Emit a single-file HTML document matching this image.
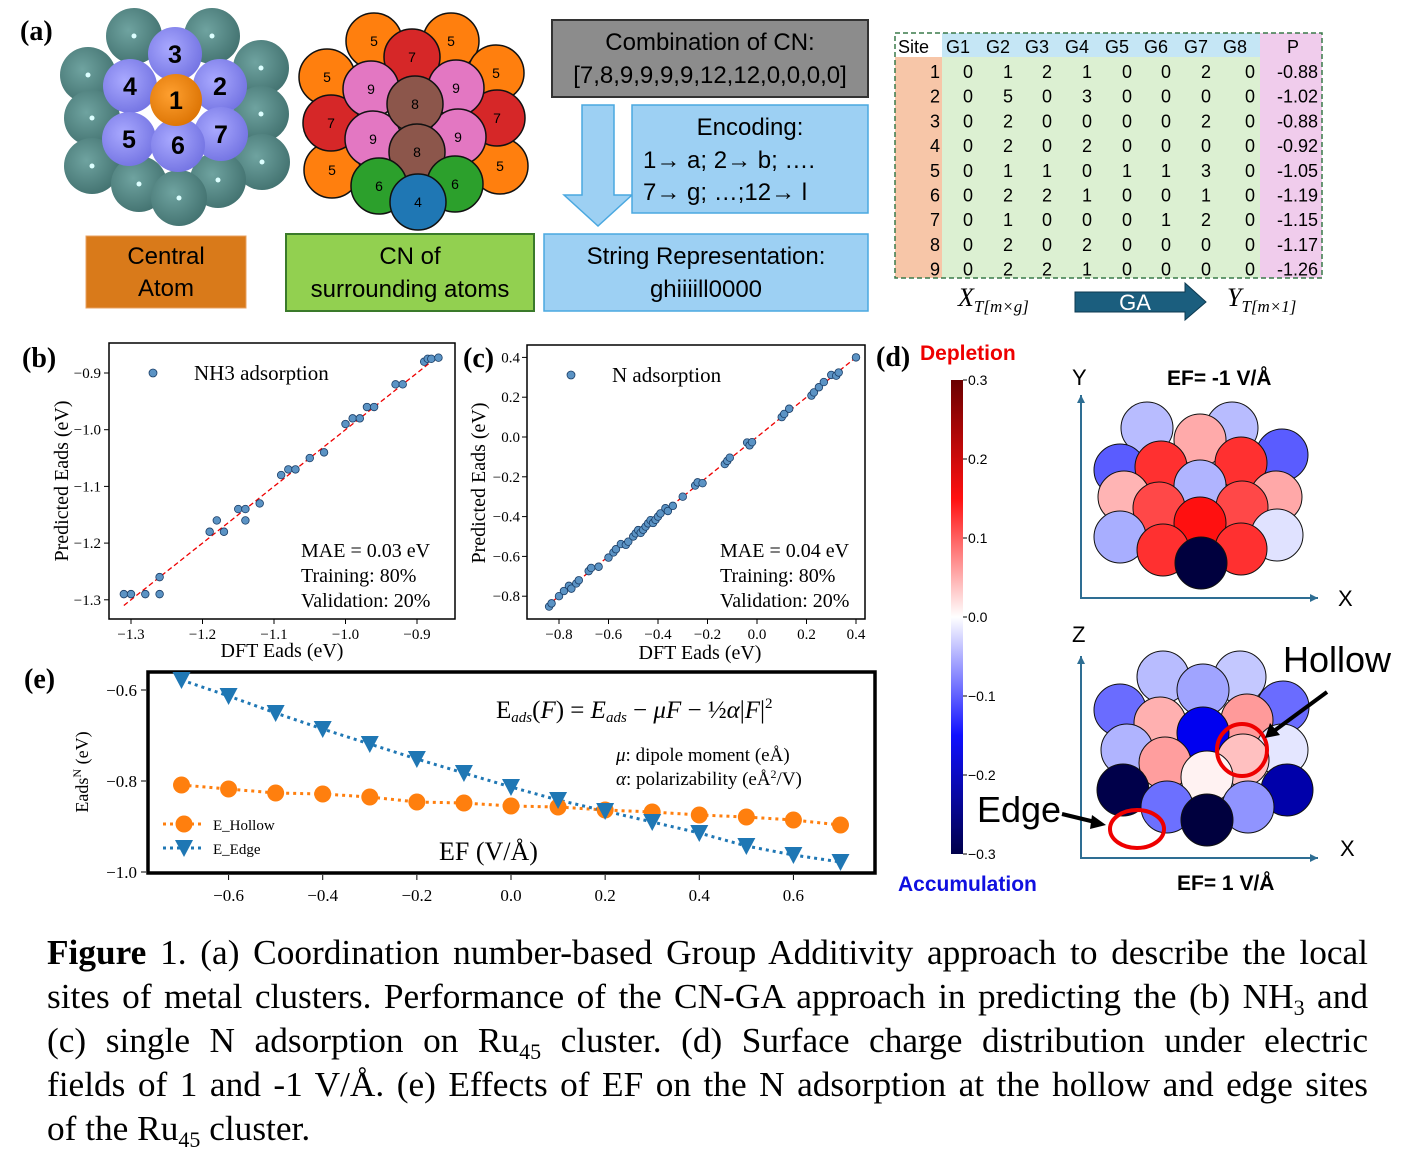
<!DOCTYPE html>
<html><head><meta charset="utf-8"><style>
body{margin:0;background:#fff;width:1402px;height:1171px;overflow:hidden;position:relative}
svg{display:block}
.s{font-family:"Liberation Sans",sans-serif}
.r{font-family:"Liberation Serif",serif}
.ln{position:absolute;left:47px;width:1321px;font-family:"Liberation Serif",serif;font-size:35.3px;line-height:40px;height:40px;white-space:nowrap;text-align:justify;text-align-last:justify;color:#000}
.ln sub{font-size:22px;line-height:0;vertical-align:-7px}
</style></head><body>
<svg id="sv" width="1402" height="1171" viewBox="0 0 1402 1171" xmlns="http://www.w3.org/2000/svg">
<defs>
<radialGradient id="tg" cx="0.4" cy="0.4" r="0.7"><stop offset="0" stop-color="#6fa3a0"/><stop offset="1" stop-color="#3f6e6c"/></radialGradient>
<radialGradient id="pg" cx="0.4" cy="0.4" r="0.7"><stop offset="0" stop-color="#a9a9ff"/><stop offset="1" stop-color="#6f6fe0"/></radialGradient>
<radialGradient id="og" cx="0.4" cy="0.4" r="0.7"><stop offset="0" stop-color="#ffa030"/><stop offset="1" stop-color="#d97000"/></radialGradient>
<linearGradient id="cb" x1="0" y1="0" x2="0" y2="1"><stop offset="0" stop-color="#6a0000"/><stop offset="0.25" stop-color="#ff1010"/><stop offset="0.5" stop-color="#ffffff"/><stop offset="0.75" stop-color="#1010ff"/><stop offset="1" stop-color="#00004a"/></linearGradient>
</defs>
<g id="g"></g>
</svg>
<div class="ln" style="top:933px"><b>Figure</b> 1. (a) Coordination number-based Group Additivity approach to describe the local</div>
<div class="ln" style="top:977px">sites of metal clusters. Performance of the CN-GA approach in predicting the (b) NH<sub>3</sub> and</div>
<div class="ln" style="top:1021px">(c) single N adsorption on Ru<sub>45</sub> cluster. (d) Surface charge distribution under electric</div>
<div class="ln" style="top:1065px">fields of 1 and -1 V/Å. (e) Effects of EF on the N adsorption at the hollow and edge sites</div>
<div class="ln" style="top:1109px;text-align-last:left">of the Ru<sub>45</sub> cluster.</div>
<script>
var h='';
function c(x,y,r,f,st,sw){h+='<circle cx="'+x+'" cy="'+y+'" r="'+r+'" fill="'+f+'" stroke="'+(st||'none')+'" stroke-width="'+(sw||1)+'"/>';}
function t(x,y,s,cls,sz,extra){h+='<text x="'+x+'" y="'+y+'" class="'+cls+'" font-size="'+sz+'" '+(extra||'')+'>'+s+'</text>';}
t(20,40,'(a)','r',28,'font-weight="bold"');
[[134,36],[212,36],[88,75],[261,68],[92,118],[261,114],[92,166],[262,162],[139,184],[218,180],[179,198]].forEach(p=>{c(p[0],p[1],28,'url(#tg)');c(p[0],p[1],2.5,'#dff');});
[[175,54,'3'],[130,86,'4'],[220,86,'2'],[129,139,'5'],[221,134,'7'],[178,145,'6']].forEach(p=>{c(p[0],p[1],27,'url(#pg)');t(p[0],p[1]+9,p[2],'s',25,'text-anchor="middle" font-weight="bold"');});
c(176,100,26,'url(#og)');t(176,109,'1','s',25,'text-anchor="middle" font-weight="bold"');
var C2=[[374,41,'#ff7f0e','5'],[451,41,'#ff7f0e','5'],[327,77,'#ff7f0e','5'],[496,73,'#ff7f0e','5'],[332,170,'#ff7f0e','5'],[500,166,'#ff7f0e','5'],[412,57,'#d62728','7'],[331,123,'#d62728','7'],[497,118,'#d62728','7'],[371,89,'#e377c2','9'],[456,88,'#e377c2','9'],[373,139,'#e377c2','9'],[458,137,'#e377c2','9'],[415,104,'#8c564b','8'],[417,152,'#8c564b','8'],[379,186,'#2ca02c','6'],[455,184,'#2ca02c','6'],[418,202,'#1f77b4','4']];
C2.forEach(p=>{c(p[0],p[1],28,p[2],'#111',1.5);t(p[0],p[1]+5,p[3],'s',14,'text-anchor="middle"');});
h+='<rect x="86" y="236" width="160" height="72" fill="#d97a1a" stroke="#e8a060"/>';
t(166,264,'Central','s',24,'text-anchor="middle"');t(166,296,'Atom','s',24,'text-anchor="middle"');
h+='<rect x="286" y="234" width="248" height="77" fill="#92d050" stroke="#3a7a2a" stroke-width="2"/>';
t(410,264,'CN of','s',24,'text-anchor="middle"');t(410,297,'surrounding atoms','s',24,'text-anchor="middle"');
h+='<rect x="552" y="20" width="316" height="77" fill="#8c8c8c" stroke="#333" stroke-width="2"/>';
t(710,50,'Combination of CN:','s',24,'text-anchor="middle"');t(710,83,'[7,8,9,9,9,9,12,12,0,0,0,0]','s',24,'text-anchor="middle"');
h+='<path d="M582,105 H614 V195 H632 L598,226 L564,195 H582 Z" fill="#9dd0f3" stroke="#4aa8e0" stroke-width="1.5"/>';
h+='<rect x="632" y="105" width="236" height="108" fill="#9dd0f3" stroke="#4aa8e0" stroke-width="1.5"/>';
t(750,135,'Encoding:','s',24,'text-anchor="middle"');t(643,168,'1<tspan font-weight="bold">→</tspan> a; 2<tspan font-weight="bold">→</tspan> b; ….','s',24);t(643,200,'7<tspan font-weight="bold">→</tspan> g; …;12<tspan font-weight="bold">→</tspan> l','s',24);
h+='<rect x="544" y="234" width="324" height="77" fill="#9dd0f3" stroke="#4aa8e0" stroke-width="1.5"/>';
t(706,264,'String Representation:','s',24,'text-anchor="middle"');t(706,297,'ghiiiill0000','s',24,'text-anchor="middle"');
h+='<rect x="895" y="57" width="47" height="221" fill="#f7c6a8"/><rect x="942" y="33" width="318" height="24" fill="#c5e6f5"/><rect x="942" y="57" width="318" height="221" fill="#dcf0d2"/><rect x="1260" y="33" width="62" height="245" fill="#f0ccec"/>';
h+='<rect x="895" y="33" width="427" height="245" fill="none" stroke="#3a7a4a" stroke-width="1.5" stroke-dasharray="5,3"/>';
t(898,53,'Site','s',18);var gx=[958,998,1037,1077,1117,1156,1196,1235];
gx.forEach((x,i)=>t(x,53,'G'+(i+1),'s',18,'text-anchor="middle"'));t(1293,53,'P','s',18,'text-anchor="middle"');
var T=[[0,1,2,1,0,0,2,0,'-0.88'],[0,5,0,3,0,0,0,0,'-1.02'],[0,2,0,0,0,0,2,0,'-0.88'],[0,2,0,2,0,0,0,0,'-0.92'],[0,1,1,0,1,1,3,0,'-1.05'],[0,2,2,1,0,0,1,0,'-1.19'],[0,1,0,0,0,1,2,0,'-1.15'],[0,2,0,2,0,0,0,0,'-1.17'],[0,2,2,1,0,0,0,0,'-1.26']];
T.forEach((r,i)=>{var y=78+i*24.7;t(940,y,i+1,'s',18,'text-anchor="end"');for(var j=0;j<8;j++)t(j==7?1255:gx[j]+15,y,r[j],'s',18,'text-anchor="end"');t(1318,y,r[8],'s',18,'text-anchor="end"');});
t(958,306,'X<tspan font-size="17" dy="6">T[m×g]</tspan>','r',26,'font-style="italic"');
h+='<path d="M1075,292 H1185 V283 L1206,302 L1185,320 V312 H1075 Z" fill="#1b5e7e" stroke="#0d3a50"/>';t(1135,310,'GA','s',22,'fill="#fff" text-anchor="middle"');
t(1227,306,'Y<tspan font-size="17" dy="6">T[m×1]</tspan>','r',26,'font-style="italic"');
function box(x0,y0,x1,y1,w){h+='<rect x="'+x0+'" y="'+y0+'" width="'+(x1-x0)+'" height="'+(y1-y0)+'" fill="none" stroke="#000" stroke-width="'+(w||1.5)+'"/>';}
t(22,367,'(b)','r',28,'font-weight="bold"');box(109,343,455,619);
var bx=v=>131+(v+1.3)*715, by=v=>373+(-0.9-v)*567;
[[-1.3,'−1.3'],[-1.2,'−1.2'],[-1.1,'−1.1'],[-1.0,'−1.0'],[-0.9,'−0.9']].forEach(a=>{h+='<line x1="'+bx(a[0])+'" y1="619" x2="'+bx(a[0])+'" y2="624" stroke="#000"/>';t(bx(a[0]),639,a[1],'r',15,'text-anchor="middle"');h+='<line x1="104" y1="'+by(a[0])+'" x2="109" y2="'+by(a[0])+'" stroke="#000"/>';t(101,by(a[0])+5,a[1],'r',15,'text-anchor="end"');});
h+='<line x1="'+bx(-1.31)+'" y1="'+by(-1.31)+'" x2="'+bx(-0.87)+'" y2="'+by(-0.87)+'" stroke="#e00" stroke-dasharray="5,3" stroke-width="1.3"/>';
[[-1.31,-1.29],[-1.30,-1.29],[-1.28,-1.29],[-1.26,-1.26],[-1.26,-1.29],[-1.19,-1.18],[-1.18,-1.16],[-1.17,-1.18],[-1.15,-1.14],[-1.14,-1.14],[-1.14,-1.16],[-1.12,-1.13],[-1.09,-1.08],[-1.08,-1.07],[-1.07,-1.07],[-1.05,-1.05],[-1.03,-1.04],[-1.00,-0.99],[-0.99,-0.98],[-0.98,-0.98],[-0.97,-0.96],[-0.96,-0.96],[-0.93,-0.92],[-0.92,-0.92],[-0.89,-0.88],[-0.885,-0.875],[-0.88,-0.875],[-0.87,-0.873]].forEach(p=>c(bx(p[0]),by(p[1]),3.8,'#5b93c4','#1a3d66',0.8));
c(153,373,4,'#5b93c4','#1a3d66',0.8);t(194,380,'NH3 adsorption','r',21);
t(301,557,'MAE = 0.03 eV','r',20);t(301,582,'Training: 80%','r',20);t(301,607,'Validation: 20%','r',20);
t(282,657,'DFT Eads (eV)','r',20,'text-anchor="middle"');
t(68,481,'Predicted Eads (eV)','r',20,'text-anchor="middle" transform="rotate(-90 68 481)"');
t(463,367,'(c)','r',28,'font-weight="bold"');box(527,345,865,619);
var cx=v=>757+v*247.5, cy=v=>437-v*199;
[[-0.8,'−0.8'],[-0.6,'−0.6'],[-0.4,'−0.4'],[-0.2,'−0.2'],[0,'0.0'],[0.2,'0.2'],[0.4,'0.4']].forEach(a=>{h+='<line x1="'+cx(a[0])+'" y1="619" x2="'+cx(a[0])+'" y2="624" stroke="#000"/>';t(cx(a[0]),639,a[1],'r',15,'text-anchor="middle"');h+='<line x1="522" y1="'+cy(a[0])+'" x2="527" y2="'+cy(a[0])+'" stroke="#000"/>';t(520,cy(a[0])+5,a[1],'r',15,'text-anchor="end"');});
h+='<line x1="'+cx(-0.85)+'" y1="'+cy(-0.85)+'" x2="'+cx(0.4)+'" y2="'+cy(0.4)+'" stroke="#e00" stroke-dasharray="5,3" stroke-width="1.3"/>';
var cp=[-0.84,-0.83,-0.8,-0.78,-0.76,-0.75,-0.73,-0.72,-0.68,-0.67,-0.64,-0.6,-0.58,-0.57,-0.55,-0.53,-0.52,-0.5,-0.49,-0.48,-0.47,-0.46,-0.45,-0.44,-0.43,-0.42,-0.41,-0.4,-0.39,-0.37,-0.36,-0.34,-0.3,-0.25,-0.24,-0.22,-0.13,-0.12,-0.11,-0.04,-0.03,-0.02,0.1,0.11,0.13,0.22,0.23,0.25,0.27,0.3,0.32,0.33,0.4];
cp.forEach((v,i)=>c(cx(v),cy(v+((i%5)-2)*0.006),3.8,'#5b93c4','#1a3d66',0.8));
c(571,375,4,'#5b93c4','#1a3d66',0.8);t(612,382,'N adsorption','r',21);
t(720,557,'MAE = 0.04 eV','r',20);t(720,582,'Training: 80%','r',20);t(720,607,'Validation: 20%','r',20);
t(700,659,'DFT Eads (eV)','r',20,'text-anchor="middle"');
t(485,483,'Predicted Eads (eV)','r',20,'text-anchor="middle" transform="rotate(-90 485 483)"');
t(24,688,'(e)','r',28,'font-weight="bold"');box(148,672,875,873,3.5);
var ex=v=>511+v*470.7, ey=v=>690+(-0.6-v)*455;
[[-0.6,'−0.6'],[-0.4,'−0.4'],[-0.2,'−0.2'],[0,'0.0'],[0.2,'0.2'],[0.4,'0.4'],[0.6,'0.6']].forEach(a=>{h+='<line x1="'+ex(a[0])+'" y1="875" x2="'+ex(a[0])+'" y2="880" stroke="#000"/>';t(ex(a[0]),901,a[1],'r',17,'text-anchor="middle"');});
[[-0.6,'−0.6'],[-0.8,'−0.8'],[-1.0,'−1.0']].forEach(a=>{h+='<line x1="141" y1="'+ey(a[0])+'" x2="146" y2="'+ey(a[0])+'" stroke="#000"/>';t(137,ey(a[0])+6,a[1],'r',17,'text-anchor="end"');});
var hy=[785,789,793,794,797,802,803,806,807,810,812,815,817,820,825],ey2=[680,696,713,729,744,759,773,787,800,811,822,833,846,855,862];
var ph='',pe='';hy.forEach((y,i)=>{var x=ex(-0.7+i*0.1);ph+=(i?'L':'M')+x+','+y;pe+=(i?'L':'M')+x+','+ey2[i];});
h+='<path d="'+ph+'" fill="none" stroke="#ff7f0e" stroke-width="3" stroke-dasharray="3,4"/>';
h+='<path d="'+pe+'" fill="none" stroke="#1f77b4" stroke-width="3" stroke-dasharray="3,4"/>';
hy.forEach((y,i)=>c(ex(-0.7+i*0.1),y,8.5,'#ff7f0e'));
ey2.forEach((y,i)=>{var x=ex(-0.7+i*0.1);h+='<path d="M'+(x-9)+','+(y-8)+' L'+(x+9)+','+(y-8)+' L'+x+','+(y+9)+' Z" fill="#1f77b4"/>';});
h+='<line x1="163" y1="824" x2="205" y2="824" stroke="#ff7f0e" stroke-width="3" stroke-dasharray="3,4"/>';c(184,824,8.5,'#ff7f0e');t(213,830,'E_Hollow','r',15);
h+='<line x1="163" y1="848" x2="205" y2="848" stroke="#1f77b4" stroke-width="3" stroke-dasharray="3,4"/><path d="M175,840 L193,840 L184,857 Z" fill="#1f77b4"/>';t(213,854,'E_Edge','r',15);
t(439,860,'EF (V/Å)','r',26);
t(496,718,'E<tspan font-size="15" font-style="italic" dy="4">ads</tspan><tspan dy="-4">(</tspan><tspan font-style="italic">F</tspan>) = <tspan font-style="italic">E</tspan><tspan font-size="15" font-style="italic" dy="4">ads</tspan><tspan dy="-4"> − </tspan><tspan font-style="italic">μF</tspan> − ½<tspan font-style="italic">α</tspan>|<tspan font-style="italic">F</tspan>|<tspan font-size="15" dy="-10">2</tspan>','r',25);
t(616,761,'<tspan font-style="italic">μ</tspan>: dipole moment (eÅ)','r',19);t(616,785,'<tspan font-style="italic">α</tspan>: polarizability (eÅ<tspan font-size="12" dy="-7">2</tspan><tspan dy="7">/V)</tspan>','r',19);
t(88,772,'Eads<tspan font-size="12" dy="-7">N</tspan><tspan dy="7"> (eV)</tspan>','r',18,'text-anchor="middle" transform="rotate(-90 88 772)"');
t(876,366,'(d)','r',28,'font-weight="bold"');t(920,360,'Depletion','s',21,'fill="#e00" font-weight="bold"');t(898,891,'Accumulation','s',21,'fill="#1010e0" font-weight="bold"');
h+='<rect x="951" y="380" width="12" height="474" fill="url(#cb)"/>';
['0.3','0.2','0.1','0.0','−0.1','−0.2','−0.3'].forEach((s,i)=>{var y=380+i*79;h+='<line x1="963" y1="'+y+'" x2="967" y2="'+y+'" stroke="#000"/>';t(968,y+5,s,'s',14);});
function ax(x0,yt,yb,xr){h+='<path d="M'+x0+','+yt+' V'+yb+' H'+xr+'" fill="none" stroke="#2e6e93" stroke-width="2"/><path d="M'+(x0-4)+','+(yt+8)+' L'+x0+','+yt+' L'+(x0+4)+','+(yt+8)+'Z M'+(xr-8)+','+(yb-4)+' L'+xr+','+yb+' L'+(xr-8)+','+(yb+4)+'Z" fill="#2e6e93"/>';}
ax(1081,395,598,1318);t(1072,385,'Y','s',22);t(1338,606,'X','s',22);t(1167,385,'EF= -1  V/Å','s',21,'font-weight="bold"');
ax(1081,656,858,1318);t(1072,642,'Z','s',22);t(1340,856,'X','s',22);t(1177,890,'EF= 1 V/Å','s',21,'font-weight="bold"');
var D1=[[1147,428,'#b8bcff'],[1232,428,'#b8bcff'],[1120,470,'#5a5cff'],[1282,455,'#5a5cff'],[1200,440,'#ffaaaa'],[1161,467,'#ff3030'],[1241,463,'#ff3030'],[1200,486,'#b0b4ff'],[1124,497,'#ffb4b4'],[1276,497,'#ffa8a8'],[1159,508,'#ff4848'],[1242,507,'#ff4848'],[1200,523,'#ff1010'],[1120,537,'#a8aeff'],[1277,535,'#e0e2ff'],[1163,550,'#ff3030'],[1241,549,'#ff3030'],[1201,563,'#00003e']];
D1.forEach(p=>c(p[0],p[1],26,p[2],'#111',1));
var D2=[[1163,677,'#b8bcff'],[1240,677,'#c4c8ff'],[1120,710,'#6a6cff'],[1283,707,'#6a6cff'],[1203,690,'#a0a4ff'],[1160,723,'#ffb0b0'],[1247,720,'#ff9a9a'],[1203,733,'#0000f0'],[1127,750,'#b0b4ff'],[1282,750,'#e4e6ff'],[1165,763,'#ff9e9e'],[1243,760,'#ffc0c0'],[1207,777,'#fff2f2'],[1123,790,'#00004a'],[1287,790,'#0000aa'],[1167,807,'#6c70ff'],[1248,807,'#9094ff'],[1207,820,'#00003e']];
D2.forEach(p=>c(p[0],p[1],26,p[2],'#111',1));
h+='<ellipse cx="1242" cy="750" rx="25" ry="26" fill="none" stroke="#e00" stroke-width="4"/><ellipse cx="1137" cy="829" rx="27" ry="19" fill="none" stroke="#e00" stroke-width="4"/>';
h+='<path d="M1327,692 L1274,731" stroke="#000" stroke-width="4"/><path d="M1265,738 L1270,723 L1280,735 Z" fill="#000"/>';
h+='<path d="M1062,814 L1095,822" stroke="#000" stroke-width="4"/><path d="M1106,825 L1092,815 L1090,829 Z" fill="#000"/>';
t(1283,672,'Hollow','s',36);t(977,822,'Edge','s',36);
document.getElementById('g').innerHTML=h;
</script>
</body></html>
